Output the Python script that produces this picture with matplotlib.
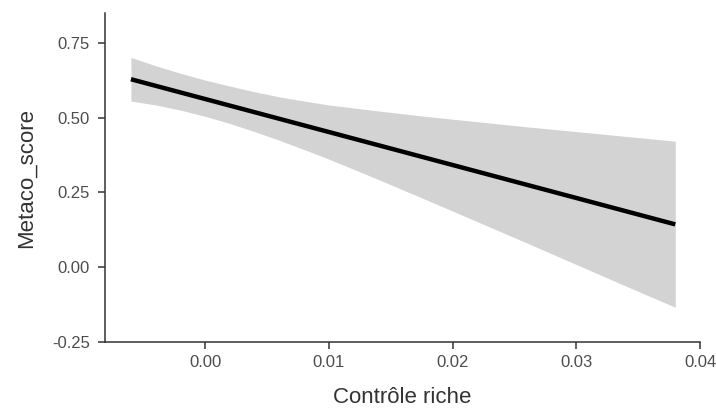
import matplotlib
matplotlib.use("Agg")
import matplotlib.pyplot as plt

# Data
band_x = [-0.006, -0.004, -0.002, 0.000, 0.002, 0.004, 0.006, 0.008, 0.010,
          0.014, 0.018, 0.022, 0.026, 0.030, 0.034, 0.038]
band_upper = [0.701, 0.673, 0.648, 0.625, 0.605, 0.586, 0.569, 0.555, 0.542,
              0.522, 0.503, 0.486, 0.469, 0.453, 0.437, 0.421]
band_lower = [0.555, 0.542, 0.525, 0.504, 0.480, 0.453, 0.424, 0.393, 0.361,
              0.293, 0.223, 0.152, 0.081, 0.009, -0.063, -0.134]
line_x = [-0.006, 0.038]
line_y = [0.628, 0.143]

x_ticks = [0.00, 0.01, 0.02, 0.03, 0.04]
x_tick_labels = ["0.00", "0.01", "0.02", "0.03", "0.04"]
y_ticks = [-0.25, 0.00, 0.25, 0.50, 0.75]
y_tick_labels = ["-0.25", "0.00", "0.25", "0.50", "0.75"]

plt.rcParams['font.family'] = ['Liberation Sans', 'DejaVu Sans']

fig = plt.figure(figsize=(7.16, 4.09), dpi=100)
ax = fig.add_axes([0.1466, 0.1638, 0.9777 - 0.1466, 0.968 - 0.1638])

ax.fill_between(band_x, band_lower, band_upper, color="#d3d3d3", linewidth=0)
ax.plot(line_x, line_y, color="black", linewidth=3.2, solid_capstyle="butt")

ax.set_xlim(-0.0081, 0.0400)
ax.set_ylim(-0.25, 0.849)
ax.set_xticks(x_ticks)
ax.set_xticklabels(x_tick_labels)
ax.set_yticks(y_ticks)
ax.set_yticklabels(y_tick_labels)

for s in ["top", "right"]:
    ax.spines[s].set_visible(False)
for s in ["left", "bottom"]:
    ax.spines[s].set_color("#333333")
    ax.spines[s].set_linewidth(1.1)

ax.tick_params(axis="both", direction="out", length=5, width=1.1,
               color="#333333", labelcolor="#4d4d4d", labelsize=12)
ax.tick_params(axis="y", pad=6)
ax.tick_params(axis="x", pad=4)

ax.set_xlabel("Contrôle riche", fontsize=16, color="#333333")
ax.set_ylabel("Metaco_score", fontsize=16, color="#333333")
ax.xaxis.label.set_va("center")
ax.yaxis.label.set_va("center")
ax.xaxis.set_label_coords(0.5, -0.170)
ax.yaxis.set_label_coords(-0.133, 0.5)

fig.savefig("out.png", dpi=100)
